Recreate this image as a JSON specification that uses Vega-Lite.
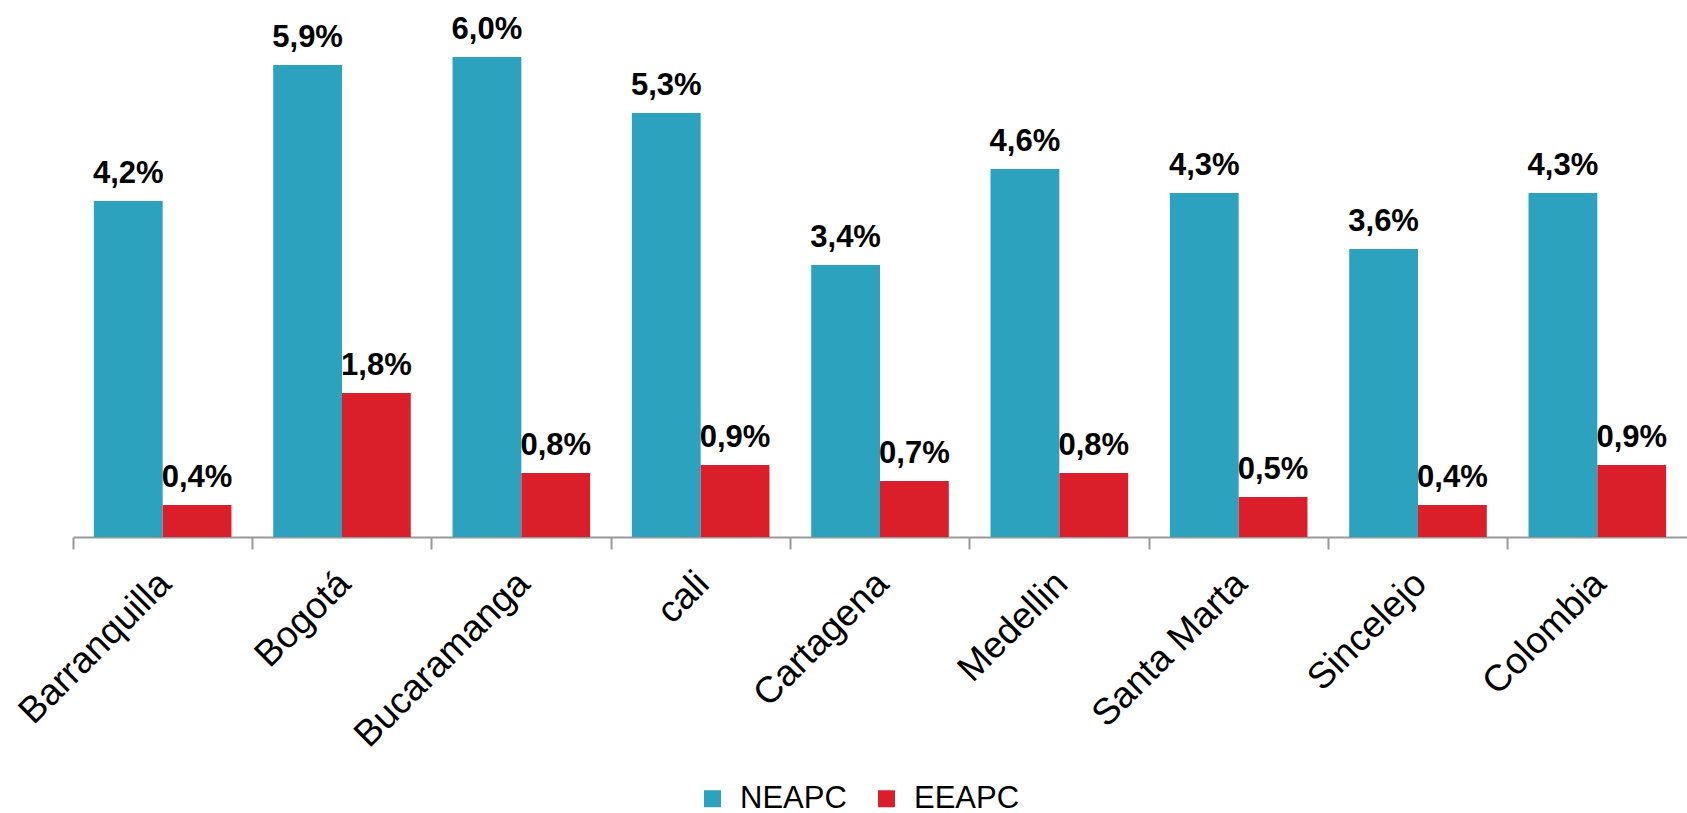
{
  "$schema": "https://vega.github.io/schema/vega-lite/v6.json",
  "autosize": {"type": "none"},
  "padding": {"left": 73, "top": 0, "right": 0, "bottom": 276},
  "width": 1614,
  "height": 537,
  "background": "white",
  "data": {
    "values": [
      {"ciudad": "Barranquilla", "serie": "NEAPC", "valor": 4.2, "etiqueta": "4,2%"},
      {"ciudad": "Barranquilla", "serie": "EEAPC", "valor": 0.4, "etiqueta": "0,4%"},
      {"ciudad": "Bogotá", "serie": "NEAPC", "valor": 5.9, "etiqueta": "5,9%"},
      {"ciudad": "Bogotá", "serie": "EEAPC", "valor": 1.8, "etiqueta": "1,8%"},
      {"ciudad": "Bucaramanga", "serie": "NEAPC", "valor": 6.0, "etiqueta": "6,0%"},
      {"ciudad": "Bucaramanga", "serie": "EEAPC", "valor": 0.8, "etiqueta": "0,8%"},
      {"ciudad": "cali", "serie": "NEAPC", "valor": 5.3, "etiqueta": "5,3%"},
      {"ciudad": "cali", "serie": "EEAPC", "valor": 0.9, "etiqueta": "0,9%"},
      {"ciudad": "Cartagena", "serie": "NEAPC", "valor": 3.4, "etiqueta": "3,4%"},
      {"ciudad": "Cartagena", "serie": "EEAPC", "valor": 0.7, "etiqueta": "0,7%"},
      {"ciudad": "Medellin", "serie": "NEAPC", "valor": 4.6, "etiqueta": "4,6%"},
      {"ciudad": "Medellin", "serie": "EEAPC", "valor": 0.8, "etiqueta": "0,8%"},
      {"ciudad": "Santa Marta", "serie": "NEAPC", "valor": 4.3, "etiqueta": "4,3%"},
      {"ciudad": "Santa Marta", "serie": "EEAPC", "valor": 0.5, "etiqueta": "0,5%"},
      {"ciudad": "Sincelejo", "serie": "NEAPC", "valor": 3.6, "etiqueta": "3,6%"},
      {"ciudad": "Sincelejo", "serie": "EEAPC", "valor": 0.4, "etiqueta": "0,4%"},
      {"ciudad": "Colombia", "serie": "NEAPC", "valor": 4.3, "etiqueta": "4,3%"},
      {"ciudad": "Colombia", "serie": "EEAPC", "valor": 0.9, "etiqueta": "0,9%"}
    ]
  },
  "encoding": {
    "x": {
      "field": "ciudad",
      "type": "nominal",
      "sort": null,
      "scale": {"paddingInner": 0, "paddingOuter": 0},
      "axis": {
        "title": null,
        "labelAngle": -45,
        "labelFont": "Liberation Sans",
        "labelFontSize": 37,
        "labelColor": "#000000",
        "labelLimit": 0,
        "bandPosition": 0,
        "labelOffset": -10,
        "labelPadding": 16,
        "domainColor": "#999999",
        "domainWidth": 2,
        "tickColor": "#999999",
        "tickWidth": 2,
        "tickSize": 12
      }
    },
    "xOffset": {
      "field": "serie",
      "type": "nominal",
      "sort": ["NEAPC", "EEAPC"],
      "scale": {"paddingInner": 0, "paddingOuter": 0.3033}
    },
    "y": {
      "field": "valor",
      "type": "quantitative",
      "scale": {"domain": [0, 6.7125], "nice": false, "zero": true},
      "axis": null
    }
  },
  "layer": [
    {
      "mark": {"type": "bar"},
      "encoding": {
        "color": {
          "field": "serie",
          "type": "nominal",
          "sort": ["NEAPC", "EEAPC"],
          "scale": {"domain": ["NEAPC", "EEAPC"], "range": ["#2DA2BF", "#DA1F2A"]},
          "legend": {
            "title": null,
            "orient": "none",
            "direction": "horizontal",
            "legendX": 624,
            "legendY": 783,
            "padding": 0,
            "symbolType": "square",
            "symbolSize": 289,
            "symbolStrokeWidth": 0,
            "symbolOpacity": 1,
            "labelFont": "Liberation Sans",
            "labelFontSize": 31,
            "labelColor": "#000000",
            "labelOffset": 12,
            "columnPadding": 24
          }
        }
      }
    },
    {
      "mark": {
        "type": "text",
        "font": "Liberation Sans",
        "fontSize": 31,
        "fontWeight": "bold",
        "color": "#000000",
        "baseline": "alphabetic",
        "dy": -18
      },
      "encoding": {
        "text": {"field": "etiqueta", "type": "nominal"}
      }
    }
  ],
  "config": {
    "view": {"stroke": null}
  }
}
